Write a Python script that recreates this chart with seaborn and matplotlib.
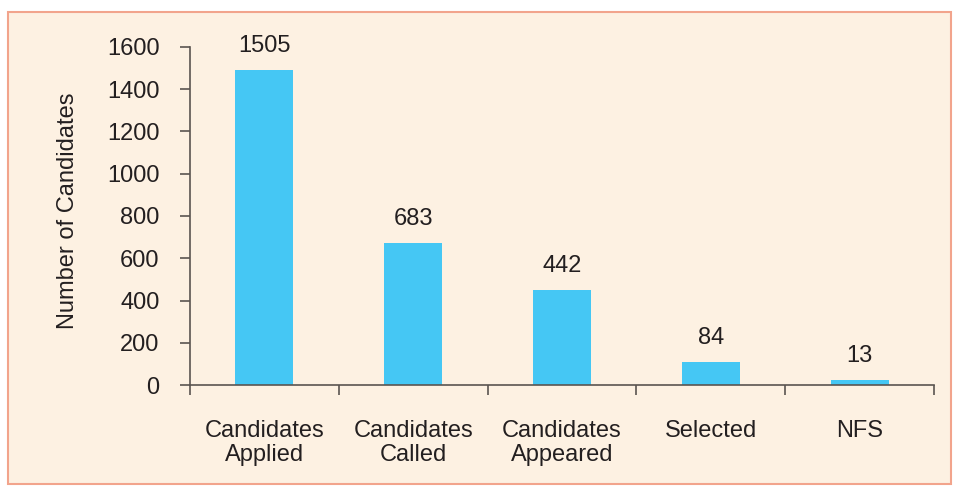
import matplotlib
matplotlib.use("Agg")
import matplotlib.pyplot as plt
import numpy as np
import pandas as pd
import seaborn as sns
from matplotlib.patches import Rectangle

categories = ["Candidates\nApplied", "Candidates\nCalled", "Candidates\nAppeared", "Selected", "NFS"]
# bar heights as drawn in the reference, and the printed value labels
bar_heights = [1492, 673, 450, 109, 24]
value_labels = [1505, 683, 442, 84, 13]
y_ticks = [0, 200, 400, 600, 800, 1000, 1200, 1400, 1600]

BG = "#fdf1e2"
EDGE = "#f2a48c"
BAR = "#45c7f4"
AXIS = "#5a5450"
TEXT = "#231f20"
FS = 17

sns.set_theme(style="white")
plt.rcParams["font.family"] = ["Liberation Sans", "DejaVu Sans"]

df = pd.DataFrame({"category": categories, "count": bar_heights})

fig = plt.figure(figsize=(9.55, 4.88), dpi=100)
fig.patch.set_facecolor("white")
fig.patches.append(Rectangle((8 / 955, 4 / 488), 943 / 955, 472 / 488, transform=fig.transFigure,
                             facecolor=BG, edgecolor=EDGE, lw=1.5, zorder=-5))

ax = fig.add_axes([190 / 955, 1 - 385 / 488, 744 / 955, 338 / 488])
ax.set_facecolor("none")
sns.barplot(data=df, x="category", y="count", color=BAR, width=0.39, saturation=1,
            linewidth=0, ax=ax)

ax.set_xlim(-0.5, 4.5)
ax.set_ylim(0, 1600)
ax.set_yticks(y_ticks)
ax.set_yticklabels([str(v) for v in y_ticks], fontsize=FS, color=TEXT)
ax.set_xticks(range(len(categories)))
ax.set_xticklabels(categories, fontsize=FS, color=TEXT, linespacing=1.12)
ax.set_xticks(np.arange(-0.5, 5, 1), minor=True)
ax.tick_params(axis="x", which="major", bottom=False, length=0, pad=25)
ax.tick_params(axis="x", which="minor", bottom=True, length=7, width=1.2, color=AXIS, direction="out")
ax.tick_params(axis="y", left=True, length=7, width=1.2, color=AXIS, direction="out", pad=15)

for s in ["top", "right"]:
    ax.spines[s].set_visible(False)
for s in ["left", "bottom"]:
    ax.spines[s].set_color(AXIS)
    ax.spines[s].set_linewidth(1.2)

for i, (h, lab) in enumerate(zip(bar_heights, value_labels)):
    ax.annotate(str(lab), (i, h), xytext=(0, 17), textcoords="offset points",
                ha="center", va="center", fontsize=FS, color=TEXT)

ax.set_xlabel("")
ax.set_ylabel("Number of Candidates", fontsize=FS, color=TEXT)
ax.yaxis.set_label_coords(-0.149, 0.515)

fig.savefig("out.png", dpi=100, facecolor=fig.get_facecolor())
